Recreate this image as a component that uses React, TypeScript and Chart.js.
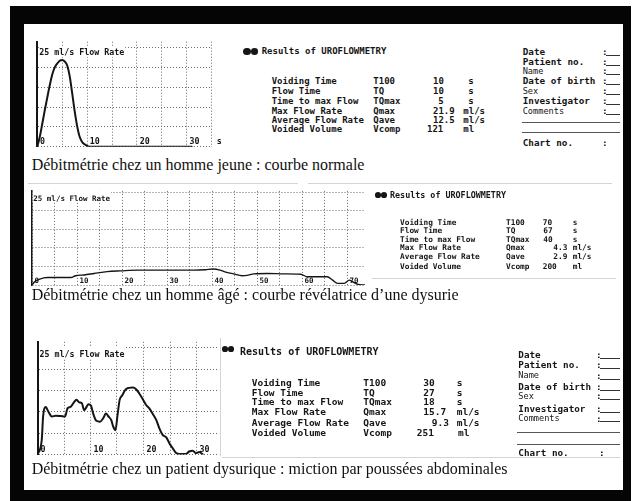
import React, { useEffect, useRef } from "react";
import { Chart, registerables } from "chart.js";

Chart.register(...registerables);

const MONO = '"DejaVu Sans Mono", "Liberation Mono", monospace';
const SERIF = '"Liberation Serif", "Times New Roman", "DejaVu Serif", serif';
const GRID = "#6a6a6a";
const INK = "#151515";

// ---------------- Data ----------------
const FLOW_TICKS = [0, 5, 10, 15, 20, 25];

// Panel 1 : young man, normal curve
const P1_TIME = [0, 0.5, 1, 1.5, 2, 2.5, 3, 3.5, 4, 4.5, 5, 5.5, 6, 6.5, 7, 7.5, 8, 8.5, 9, 9.5, 10, 10.5, 31];
const P1_FLOW = [0, 2.5, 5.8, 9.2, 12.4, 15.5, 18.2, 20.0, 21.0, 21.7, 21.9, 21.5, 20.5, 17.8, 13.5, 9.0, 5.2, 2.5, 1.2, 0.6, 0.2, 0, 0];
const P1_TIME_TICKS = [0, 5, 10, 15, 20, 25, 30, 35];
const P1_TIME_LABELS = [0, 10, 20, 30];

// Panel 2 : elderly man, dysuria
const P2_TIME = [0, 0.6, 1.7, 3.5, 6.4, 8.6, 9.7, 11.6, 13.8, 16.7, 19.7, 23.4, 27, 30, 33, 36, 38.5, 40.3, 41.8, 43.3, 44.8, 46.7, 47.8, 49.3, 52.3, 56, 59.7, 61.2, 65.6, 66.8, 67.9, 69.4, 70.5, 71.2, 72.3, 74];
const P2_FLOW = [0, 0.9, 1.6, 2.0, 2.0, 2.0, 2.5, 2.7, 3.1, 3.6, 3.8, 4.0, 4.0, 4.0, 4.0, 4.0, 4.1, 4.3, 4.0, 3.4, 3.0, 2.5, 2.6, 3.0, 3.1, 3.0, 2.9, 2.2, 2.2, 1.3, 0.45, 0.45, 1.3, 0.9, 0.2, 0];
const P2_TIME_TICKS = [0, 5, 10, 15, 20, 25, 30, 35, 40, 45, 50, 55, 60, 65, 70];
const P2_TIME_LABELS = [0, 10, 20, 30, 40, 50, 60, 70];

// Panel 3 : dysuric patient, abdominal straining
const P3_TIME = [0, 0.8, 1.06, 1.57, 2.07, 2.7, 3.46, 4.4, 5.2, 5.66, 6.3, 6.8, 7.37, 7.87, 8.37, 8.8, 9.1, 9.6, 10.1, 10.5, 11.1, 11.8, 12.4, 12.9, 13.4, 13.9, 14.3, 14.7, 15.1, 15.5, 16.0, 16.6, 17.2, 18.0, 18.6, 19.2, 19.9, 20.5, 21.1, 21.7, 22.4, 23.0, 23.6, 24.3, 24.9, 25.5, 26.1, 26.8, 28.0, 28.6, 29.3, 29.9, 30.5, 31.2];
const P3_FLOW = [0, 3.4, 8.9, 11.1, 10.0, 8.9, 9.1, 9.0, 8.9, 10.8, 11.2, 12.1, 12.8, 12.2, 12.0, 10.4, 10.8, 11.8, 11.4, 9.6, 7.9, 7.7, 8.5, 9.6, 8.9, 8.1, 6.5, 5.7, 9.2, 12.8, 13.9, 15.2, 15.6, 15.7, 15.3, 14.3, 12.9, 11.6, 10.8, 9.6, 8.1, 6.1, 4.6, 4.0, 2.6, 1.5, 0.4, 0.1, 0.1, 0.7, 0.9, 0.3, 0.6, 0];
const P3_TIME_TICKS = [0, 5, 10, 15, 20, 25, 30];
const P3_TIME_LABELS = [0, 10, 20, 30];

// Text content
const CHART_TITLE = "25 ml/s Flow Rate";
const RESULTS_TITLE = "Results of UROFLOWMETRY";
const ROW_LABELS = ["Voiding Time", "Flow Time", "Time to max Flow", "Max Flow Rate", "Average Flow Rate", "Voided Volume"];
const ROW_CODES = ["T100", "TQ", "TQmax", "Qmax", "Qave", "Vcomp"];
const ROW_UNITS = ["s", "s", "s", "ml/s", "ml/s", "ml"];
const P1_VALUES = ["10", "10", "5", "21.9", "12.5", "121"];
const P2_VALUES = ["70", "67", "40", "4.3", "2.9", "200"];
const P3_VALUES = ["30", "27", "18", "15.7", "9.3", "251"];
const INFO_LABELS = ["Date", "Patient no.", "Name", "Date of birth", "Sex", "Investigator", "Comments"];
const INFO_SMALL = [false, false, true, false, true, false, true];
const CHART_NO = "Chart no.";
const CAPTIONS = [
  "Débitmétrie chez un homme jeune : courbe normale",
  "Débitmétrie chez un homme âgé : courbe révélatrice d\u2019une dysurie",
  "Débitmétrie chez un patient dysurique : miction par poussées abdominales",
];

// ---------------- Chart component ----------------
type Box = { left: number; top: number; width: number; height: number };
type Pad = { left: number; right: number; top: number; bottom: number };
type FlowProps = {
  time: number[];
  flow: number[];
  timeTicks: number[];
  timeLabels: number[];
  xMax: number;
  yMax: number;
  box: Box;
  pad: Pad;
  fs: number;
  lineWidth: number;
  axisWidth: number;
  titleDx: number;
  titleDy: number;
  labelDx: number;
  labelDy: number;
  unit?: string;
};

function FlowChart(p: FlowProps) {
  const ref = useRef<HTMLCanvasElement | null>(null);
  useEffect(() => {
    const canvas = ref.current;
    if (!canvas) return;
    const labelPlugin = {
      id: "flowLabels",
      afterDatasetsDraw(chart: any) {
        const { ctx, chartArea, scales } = chart;
        ctx.save();
        ctx.font = `bold ${p.fs}px ${MONO}`;
        ctx.textBaseline = "alphabetic";
        ctx.textAlign = "left";
        const y0 = scales.y.getPixelForValue(0);
        const yTop = scales.y.getPixelForValue(25);
        // chart title with a white backdrop over the top grid line
        const tx = chartArea.left + p.titleDx;
        const tw = ctx.measureText(CHART_TITLE).width;
        const tb = yTop + p.titleDy;
        ctx.fillStyle = "#ffffff";
        ctx.fillRect(tx - 0.5, yTop - 1, tw + 1.5, tb - yTop + 2.5);
        ctx.fillStyle = INK;
        ctx.fillText(CHART_TITLE, tx, tb);
        for (const v of p.timeLabels) {
          ctx.fillText(String(v), scales.x.getPixelForValue(v) + p.labelDx, y0 - p.labelDy);
        }
        if (p.unit) ctx.fillText(p.unit, chartArea.right + 5, y0 - p.labelDy);
        ctx.restore();
      },
    };
    const chart = new Chart(canvas, {
      type: "line",
      data: {
        datasets: [
          {
            data: p.time.map((t, i) => ({ x: t, y: p.flow[i] })),
            borderColor: INK,
            borderWidth: p.lineWidth,
            pointRadius: 0,
            fill: false,
            cubicInterpolationMode: "monotone",
            borderCapStyle: "round",
            borderJoinStyle: "round",
          },
        ],
      },
      options: {
        animation: false,
        responsive: false,
        maintainAspectRatio: false,
        devicePixelRatio: 1,
        events: [],
        layout: { padding: p.pad },
        plugins: { legend: { display: false }, tooltip: { enabled: false }, title: { display: false } },
        scales: {
          x: {
            type: "linear",
            min: 0,
            max: p.xMax,
            afterBuildTicks: (ax: any) => {
              ax.ticks = p.timeTicks.map((v) => ({ value: v }));
            },
            ticks: { display: false },
            grid: { color: GRID, lineWidth: 1, drawTicks: false },
            border: { display: false, dash: [1, 2] },
          },
          y: {
            type: "linear",
            min: 0,
            max: p.yMax,
            afterBuildTicks: (ax: any) => {
              ax.ticks = FLOW_TICKS.map((v) => ({ value: v }));
            },
            ticks: { display: false },
            grid: { color: GRID, lineWidth: 1, drawTicks: false },
            border: { display: true, color: INK, width: p.axisWidth, dash: [1, 2] },
          },
        },
      } as any,
      plugins: [labelPlugin],
    });
    return () => chart.destroy();
  }, []);
  return (
    <canvas
      ref={ref}
      width={p.box.width}
      height={p.box.height}
      style={{ position: "absolute", left: p.box.left, top: p.box.top, width: p.box.width, height: p.box.height }}
    />
  );
}

// ---------------- Text helpers ----------------
function T({ x, y, fs, text, bold }: { x: number; y: number; fs: number; text: string; bold?: boolean }) {
  return (
    <div
      style={{
        position: "absolute",
        left: x,
        top: y - fs / 2,
        fontSize: fs,
        lineHeight: fs + "px",
        fontFamily: MONO,
        fontWeight: bold ? "bold" : "normal",
        whiteSpace: "pre",
        color: INK,
      }}
    >
      {text}
    </div>
  );
}

function Caption({ x, base, text }: { x: number; base: number; text: string }) {
  return (
    <div
      style={{
        position: "absolute",
        left: x,
        top: base - 13.4,
        fontSize: 16,
        lineHeight: "16px",
        fontFamily: SERIF,
        whiteSpace: "pre",
        color: "#111",
      }}
    >
      {text}
    </div>
  );
}

function Icon({ x, y, w }: { x: number; y: number; w: number }) {
  const d = w / 2;
  const s = { position: "absolute" as const, width: d, height: d * 0.95, borderRadius: "50%", background: INK, top: y - d / 2 };
  return (
    <>
      <div style={{ ...s, left: x }} />
      <div style={{ ...s, left: x + d + 0.3 }} />
    </>
  );
}

function HLine({ x1, x2, y, color }: { x1: number; x2: number; y: number; color?: string }) {
  return <div style={{ position: "absolute", left: x1, top: y, width: x2 - x1, height: 0, borderTop: `1px solid ${color || "#444"}` }} />;
}

function VLine({ x, y1, y2, color }: { x: number; y1: number; y2: number; color: string }) {
  return <div style={{ position: "absolute", left: x, top: y1, width: 0, height: y2 - y1, borderLeft: `1px solid ${color}` }} />;
}

type TableLayout = {
  rowsY: number[];
  fs: number;
  labelX: number;
  codeX: number;
  valueX: number[];
  unitX: number[];
};

function ResultsTable({ L, values }: { L: TableLayout; values: string[] }) {
  return (
    <>
      {ROW_LABELS.map((lab, i) => (
        <React.Fragment key={i}>
          <T x={L.labelX} y={L.rowsY[i]} fs={L.fs} text={lab} bold />
          <T x={L.codeX} y={L.rowsY[i]} fs={L.fs} text={ROW_CODES[i]} bold />
          <T x={L.valueX[i]} y={L.rowsY[i]} fs={L.fs} text={values[i]} bold />
          <T x={L.unitX[i]} y={L.rowsY[i]} fs={L.fs} text={ROW_UNITS[i]} bold />
        </React.Fragment>
      ))}
    </>
  );
}

type InfoLayout = {
  x: number;
  rowsY: number[];
  fs: number;
  fsSmall: number;
  colonX: number;
  lineX2: number;
  sepY: number[];
  chartY: number;
  chartColonX: number;
};

function InfoBlock({ L }: { L: InfoLayout }) {
  return (
    <>
      {INFO_LABELS.map((lab, i) => {
        const fs = INFO_SMALL[i] ? L.fsSmall : L.fs;
        return (
          <React.Fragment key={i}>
            <T x={L.x} y={L.rowsY[i]} fs={fs} text={lab} bold={!INFO_SMALL[i]} />
            <T x={L.colonX} y={L.rowsY[i]} fs={L.fs} text=":" bold />
            <HLine x1={L.colonX + 4} x2={L.lineX2} y={L.rowsY[i] + 3} color="#333" />
          </React.Fragment>
        );
      })}
      {L.sepY.map((y, i) => (
        <HLine key={i} x1={L.x - 1} x2={L.lineX2} y={y} color="#555" />
      ))}
      <T x={L.x} y={L.chartY} fs={L.fs} text={CHART_NO} bold />
      <T x={L.chartColonX} y={L.chartY} fs={L.fs} text=":" bold />
    </>
  );
}

// ---------------- Layouts ----------------
const TABLE1: TableLayout = {
  rowsY: [81.7, 91.7, 101, 111, 120, 129.3],
  fs: 9,
  labelX: 271.7,
  codeX: 373.3,
  valueX: [433, 433, 438.3, 433, 433, 427],
  unitX: [468.3, 468.3, 468.3, 463.3, 463.3, 463.3],
};
const TABLE2: TableLayout = {
  rowsY: [222.5, 231, 239.5, 248, 257, 266.5],
  fs: 7.8,
  labelX: 400,
  codeX: 506,
  valueX: [542.7, 543.3, 543.3, 553.3, 553.3, 542.7],
  unitX: [572.7, 572.7, 572.7, 572.7, 572.7, 572.7],
};
const TABLE3: TableLayout = {
  rowsY: [382.7, 392.3, 401.7, 412, 422.5, 433],
  fs: 9.5,
  labelX: 251.7,
  codeX: 363.3,
  valueX: [423.3, 423.3, 423.3, 423.3, 431.7, 416.7],
  unitX: [456.7, 456.7, 456.7, 456.7, 456.7, 458],
};
const INFO1: InfoLayout = {
  x: 522.7,
  rowsY: [51.7, 61.7, 71, 81, 91, 101, 111],
  fs: 9.3,
  fsSmall: 8.6,
  colonX: 602,
  lineX2: 620,
  sepY: [121.7, 131.7],
  chartY: 142.7,
  chartColonX: 602,
};
const INFO3: InfoLayout = {
  x: 518.3,
  rowsY: [355, 365, 375.7, 386.7, 396, 409, 418.3],
  fs: 9.3,
  fsSmall: 8.6,
  colonX: 596,
  lineX2: 620,
  sepY: [432.3, 444],
  chartY: 452.3,
  chartColonX: 599,
};

const SCAN = "#d4d4d4";

export default function App() {
  return (
    <div style={{ position: "absolute", left: 0, top: 0, width: 632, height: 501, background: "#fff", overflow: "hidden" }}>
      <div style={{ position: "absolute", left: 10, top: 6, width: 621, height: 495, background: "#050505" }} />
      <div style={{ position: "absolute", left: 24, top: 24, width: 599, height: 466, background: "#fff" }} />

      {/* faint edges of the scanned print-outs */}
      <HLine x1={28} x2={298} y={183} color={SCAN} />
      <HLine x1={308} x2={612} y={183} color={SCAN} />
      <HLine x1={372} x2={616} y={278} color={SCAN} />
      <VLine x={220} y1={338} y2={456} color={SCAN} />
      <HLine x1={222} x2={620} y={456.5} color={SCAN} />

      {/* Panel 1 */}
      <FlowChart
        time={P1_TIME}
        flow={P1_FLOW}
        timeTicks={P1_TIME_TICKS}
        timeLabels={P1_TIME_LABELS}
        xMax={35}
        yMax={26.5}
        box={{ left: 28, top: 36, width: 200, height: 118 }}
        pad={{ left: 9.3, right: 16.3, top: 5.7, bottom: 7.3 }}
        fs={8.3}
        lineWidth={2}
        axisWidth={2}
        titleDx={2}
        titleDy={7.8}
        labelDx={2.7}
        labelDy={2.7}
        unit="s"
      />
      <Icon x={243} y={51.7} w={15} />
      <T x={261.7} y={51.7} fs={9} text={RESULTS_TITLE} bold />
      <ResultsTable L={TABLE1} values={P1_VALUES} />
      <InfoBlock L={INFO1} />
      <Caption x={31.7} base={170} text={CAPTIONS[0]} />

      {/* Panel 2 */}
      <FlowChart
        time={P2_TIME}
        flow={P2_FLOW}
        timeTicks={P2_TIME_TICKS}
        timeLabels={P2_TIME_LABELS}
        xMax={74}
        yMax={25.3}
        box={{ left: 26, top: 186, width: 350, height: 106 }}
        pad={{ left: 6, right: 11, top: 4.9, bottom: 7 }}
        fs={7.5}
        lineWidth={1.4}
        axisWidth={1.5}
        titleDx={1.3}
        titleDy={8.5}
        labelDx={2.4}
        labelDy={2}
      />
      <Icon x={375} y={195} w={12} />
      <T x={390} y={195} fs={8.4} text={RESULTS_TITLE} bold />
      <ResultsTable L={TABLE2} values={P2_VALUES} />
      <Caption x={31.7} base={300} text={CAPTIONS[1]} />

      {/* Panel 3 */}
      <FlowChart
        time={P3_TIME}
        flow={P3_FLOW}
        timeTicks={P3_TIME_TICKS}
        timeLabels={P3_TIME_LABELS}
        xMax={34}
        yMax={26.4}
        box={{ left: 28, top: 336, width: 200, height: 126 }}
        pad={{ left: 9.5, right: 10.3, top: 5.8, bottom: 7.5 }}
        fs={8.3}
        lineWidth={2}
        axisWidth={2}
        titleDx={2}
        titleDy={9}
        labelDx={3}
        labelDy={2.5}
      />
      <Icon x={222} y={349} w={12} />
      <T x={240} y={351.7} fs={10} text={RESULTS_TITLE} bold />
      <ResultsTable L={TABLE3} values={P3_VALUES} />
      <InfoBlock L={INFO3} />
      <Caption x={31.7} base={474} text={CAPTIONS[2]} />
    </div>
  );
}
